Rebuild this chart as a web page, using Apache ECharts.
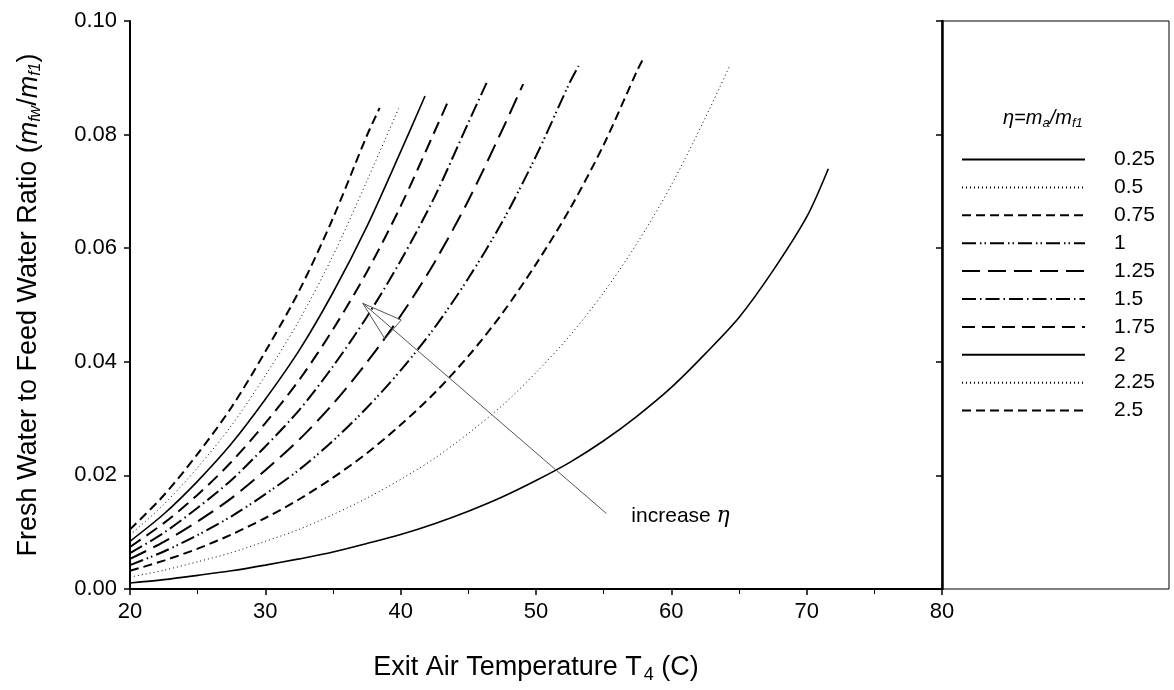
<!DOCTYPE html>
<html>
<head>
<meta charset="utf-8">
<script src="https://cdn.jsdelivr.net/npm/echarts@6/dist/echarts.min.js"></script>
<style>
html,body{margin:0;padding:0;background:#fff;}
#c{width:1174px;height:690px;}
</style>
</head>
<body>
<div id="c"></div>
<script>
// ---- data ----
const TEMPS = [20,22.5,25,27.5,30,32.5,35,37.5,40,42.5,45,47.5,50,52.5,55,57.5,60,62.5,65,67.5,70];
const ETA_LABELS = ['0.25','0.5','0.75','1','1.25','1.5','1.75','2','2.25','2.5'];
const V_025 = [0.00105,0.00165,0.0024,0.0032,0.0042,0.0053,0.0065,0.0080,0.0096,0.0115,0.0137,0.0162,0.0191,0.0223,0.0261,0.0305,0.0355,0.0414,0.0478,0.0560,0.0655];
const V_050 = [0.0021,0.0033,0.0048,0.0064,0.0084,0.0105,0.0131,0.0160,0.0193,0.0230,0.0274,0.0323,0.0381,0.0446,0.0522,0.0610,0.0711,0.0829];
const V_075 = [0.0032,0.0050,0.0071,0.0096,0.0125,0.0158,0.0196,0.0239,0.0289,0.0345,0.0410,0.0485,0.0572,0.0669,0.0782,0.0914];
const V_100 = [0.0042,0.0066,0.0095,0.0128,0.0167,0.0210,0.0261,0.0319,0.0385,0.0460,0.0547,0.0646,0.0762,0.0892];
const V_125 = [0.0053,0.0083,0.0119,0.0160,0.0209,0.0263,0.0326,0.0399,0.0481,0.0575,0.0684,0.0808];
const V_150 = [0.0063,0.0099,0.0143,0.0192,0.0251,0.0315,0.0392,0.0479,0.0578,0.0690,0.0821];
const V_175 = [0.0074,0.0116,0.0166,0.0224,0.0292,0.0368,0.0457,0.0558,0.0674,0.0805];
const V_200 = [0.0084,0.0132,0.0190,0.0256,0.0334,0.0420,0.0522,0.0638,0.0770];
const V_225 = [0.0095,0.0149,0.0214,0.0288,0.0376,0.0473,0.0587,0.0718];
const V_250 = [0.0105,0.0165,0.0238,0.0320,0.0418,0.0525,0.0653,0.0798];
const END_T = [71.6,64.35,58.0,53.15,49.05,46.35,43.6,41.8,39.85,38.45];
const END_V = [0.074,0.0923,0.0937,0.0921,0.0889,0.0891,0.0864,0.0868,0.0846,0.0847];
const X_TICKS = [20,30,40,50,60,70,80];
const Y_TICKS = [0,0.02,0.04,0.06,0.08,0.10];
const ARROW_TAIL = [55.2, 0.0133];
const ARROW_TIP = [37.2, 0.0503];

const VALUES = [V_025,V_050,V_075,V_100,V_125,V_150,V_175,V_200,V_225,V_250];

// ---- styles ----
const DOT = [1,3];
const STYLES = [
  {type:'solid', width:1.6},
  {type:DOT, width:1},
  {type:[9,5], width:2},
  {type:[14,4,1.5,3,1.5,4], width:2},
  {type:[18,8], width:2},
  {type:[14,4,1.5,4], width:2},
  {type:[13,7], width:2},
  {type:'solid', width:1.6},
  {type:DOT, width:1},
  {type:[9,5], width:2}
];

const FONT = '"Liberation Sans", Arial, sans-serif';

const series = VALUES.map((vals, i) => {
  const data = vals.map((v, k) => [TEMPS[k], v]);
  data.push([END_T[i], END_V[i]]);
  return {
    name: ETA_LABELS[i],
    type: 'line',
    data: data,
    smooth: 0.3,
    symbol: 'none',
    lineStyle: Object.assign({color:'#000', cap:'butt'}, STYLES[i]),
    itemStyle: {color:'#000'},
    emphasis: {disabled: true},
    animation: false,
    xAxisIndex: 0, yAxisIndex: 0
  };
});

const chart = echarts.init(document.getElementById('c'), null, {renderer:'canvas'});
const axLine = {show:true, lineStyle:{color:'#000', width:2}};
chart.setOption({
  backgroundColor:'#fff',
  animation:false,
  grid:{left:130, right:232, top:21, bottom:101, containLabel:false},
  xAxis:[{
    type:'value', min:X_TICKS[0], max:X_TICKS[X_TICKS.length-1], interval:10, position:'bottom',
    axisLine:axLine, axisTick:{show:true, inside:false, length:6, lineStyle:{color:'#000', width:1.5}},
    splitLine:{show:false},
    axisLabel:{color:'#000', fontSize:22, fontFamily:FONT, margin:12},
    name:'Exit Air Temperature T{sub|4} (C)', nameLocation:'middle', nameGap:62,
    nameTextStyle:{color:'#000', fontSize:27, fontFamily:FONT,
      rich:{sub:{fontSize:18, fontFamily:FONT, color:'#000', padding:[15,0,0,2]}}}
  },{
    type:'value', min:X_TICKS[0], max:X_TICKS[X_TICKS.length-1], interval:10, position:'top',
    axisLine:axLine, axisLabel:{show:false}, splitLine:{show:false},
    axisTick:{show:true, inside:true, length:5, customValues:[25,35,45,55,65,75], lineStyle:{color:'#000', width:1}}
  }],
  yAxis:[{
    type:'value', min:0, max:0.1, interval:0.02, position:'left',
    axisLine:axLine, axisTick:{show:true, inside:false, length:6, lineStyle:{color:'#000', width:1.5}},
    splitLine:{show:false},
    axisLabel:{color:'#000', fontSize:22, fontFamily:FONT, margin:13, formatter:v=>v.toFixed(2)},
    name:'Fresh Water to Feed Water Ratio ({it|m}{sub|fw}/{it|m}{sub|f1})', nameLocation:'middle', nameGap:86,
    nameTextStyle:{color:'#000', fontSize:27, fontFamily:FONT,
      rich:{it:{fontStyle:'italic', fontSize:27, fontFamily:FONT, color:'#000'},
            sub:{fontStyle:'italic', fontSize:16, fontFamily:FONT, color:'#000', padding:[14,0,0,0]}}}
  },{
    type:'value', min:0, max:0.1, interval:0.02, position:'right',
    axisLine:{show:true, lineStyle:{color:'#000', width:2.5}}, axisLabel:{show:false}, splitLine:{show:false},
    axisTick:{show:true, inside:true, length:6, lineStyle:{color:'#000', width:1.5}}
  }],
  legend:{
    orient:'vertical', left:961, top:149, padding:0, itemWidth:123, itemHeight:16, itemGap:6.9,
    selectedMode:false,
    itemStyle:{opacity:0},
    textStyle:{color:'#000', fontSize:21, fontFamily:FONT, padding:[0,0,0,24]},
    data: ETA_LABELS
  },
  series: series
});

function drawExtras(){
  const p00 = chart.convertToPixel({gridIndex:0}, [X_TICKS[X_TICKS.length-1], 0]);
  const p11 = chart.convertToPixel({gridIndex:0}, [X_TICKS[X_TICKS.length-1], 0.1]);
  const tail = chart.convertToPixel({gridIndex:0}, ARROW_TAIL);
  const tip = chart.convertToPixel({gridIndex:0}, ARROW_TIP);
  const dx = tail[0]-tip[0], dy = tail[1]-tip[1];
  const L = Math.sqrt(dx*dx+dy*dy);
  const ux = dx/L, uy = dy/L, nx = -uy, ny = ux;
  const AL = 40, AW = 12.5;
  const c1 = [tip[0]+ux*AL+nx*AW, tip[1]+uy*AL+ny*AW];
  const c2 = [tip[0]+ux*AL-nx*AW, tip[1]+uy*AL-ny*AW];
  const boxRight = 1169;
  chart.setOption({
    graphic:[
      {type:'rect', shape:{x:p11[0], y:p11[1], width:boxRight-p11[0], height:p00[1]-p11[1]},
       style:{fill:'none', stroke:'#000', lineWidth:1}, z:10, silent:true},
      {type:'line', shape:{x1:tail[0], y1:tail[1], x2:tip[0], y2:tip[1]},
       style:{stroke:'#555', lineWidth:1}, z:10, silent:true},
      {type:'polygon', shape:{points:[tip, c1, c2]},
       style:{fill:'none', stroke:'#555', lineWidth:1}, z:10, silent:true},
      {type:'text', x:tail[0]+25, y:tail[1]+3,
       style:{text:'increase {it|η}', fill:'#000', font:'21px '+FONT, verticalAlign:'middle',
         rich:{it:{fontStyle:'italic', fontSize:22, fontFamily:'"DejaVu Serif", serif', fill:'#000'}}}, z:10},
      {type:'text', x:1003, y:118,
       style:{text:'{it|η=m}{sub|a}{it|/m}{sub|f1}', verticalAlign:'middle', fill:'#000',
         rich:{it:{fontStyle:'italic', fontSize:20, fontFamily:FONT, fill:'#000'},
               sub:{fontStyle:'italic', fontSize:13, fontFamily:FONT, fill:'#000', padding:[11,0,0,0]}}}, z:10}
    ]
  });
}
drawExtras();
</script>
</body>
</html>
